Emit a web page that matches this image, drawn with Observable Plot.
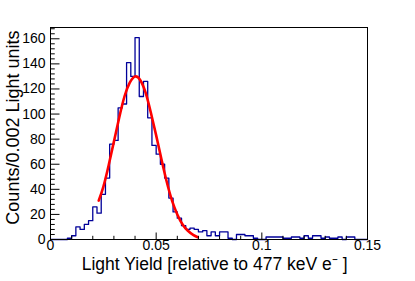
<!DOCTYPE html>
<html><head><meta charset="utf-8">
<script src="https://cdn.jsdelivr.net/npm/d3@7"></script>
<script src="https://cdn.jsdelivr.net/npm/@observablehq/plot@0.6"></script>
<style>
html,body{margin:0;padding:0;background:#fff;}
#chart svg{display:block;}
</style></head><body><div id="chart"></div>
<script>
const binWidth = 0.002;
const counts = [
  0, 0, 0, 0, 1, 3, 10, 8, 12, 15,
  26, 21, 36, 49, 76, 79, 105, 108, 141, 130,
  161, 114, 126, 97, 75, 68, 60, 49, 33, 22,
  17, 11, 8, 9, 8, 6, 7, 3, 6, 3,
  6, 6, 1, 0, 4, 4, 3, 3, 1, 0,
  0, 2, 2, 2, 2, 1, 1, 2, 2, 1,
  3, 1, 3, 3, 1, 2, 1, 1, 2, 0,
  2, 2, 0, 0, 0
];
const fitX = [0.0228, 0.025, 0.0275, 0.030, 0.0325, 0.035, 0.0375, 0.040, 0.0425, 0.045, 0.0475, 0.050, 0.0525, 0.055, 0.0575, 0.060, 0.0625, 0.065, 0.0675, 0.0697];
const fitY = [31, 42, 59, 78, 97, 114, 125, 130, 127, 117, 101, 83, 64, 46, 31, 20, 12, 7, 3.7, 1.8];
const xMajorTicks = [0, 0.05, 0.1, 0.15];
const xTickLabels = ["0", "0.05", "0.1", "0.15"];
const xMinorTicks = [0.01, 0.02, 0.03, 0.04, 0.06, 0.07, 0.08, 0.09, 0.11, 0.12, 0.13, 0.14];
const yMajorTicks = [0, 20, 40, 60, 80, 100, 120, 140, 160];
const yTickLabels = ["0", "20", "40", "60", "80", "100", "120", "140", "160"];
const yMinorTicks = [4, 8, 12, 16, 24, 28, 32, 36, 44, 48, 52, 56, 64, 68, 72, 76, 84, 88, 92, 96, 104, 108, 112, 116, 124, 128, 132, 136, 144, 148, 152, 156, 164, 168];
const xTitle = "Light Yield [relative to 477 keV e\u207B ]";
const yTitle = "Counts/0.002 Light units";
const yMax = 169;

const histPts = counts.map((c, i) => ({x: i * binWidth, y: c}));
histPts.push({x: counts.length * binWidth, y: counts[counts.length - 1]});
const fitPts = fitX.map((x, i) => ({x, y: fitY[i]}));

const W = 415, H = 281, mL = 50, mR = 48, mT = 27, mB = 42;
const fw = W - mL - mR, fh = H - mT - mB;

const chart = Plot.plot({
  width: W, height: H,
  marginLeft: mL, marginRight: mR, marginTop: mT, marginBottom: mB,
  x: {domain: [0, 0.15]},
  y: {domain: [0, yMax]},
  style: {fontFamily: "'Liberation Sans', Arial, Helvetica, sans-serif", fontSize: "14px", background: "white", color: "black"},
  marks: [
    Plot.line(histPts, {x: "x", y: "y", curve: "step-after", stroke: "#000099", strokeWidth: 1.3}),
    Plot.line(fitPts, {x: "x", y: "y", curve: "natural", stroke: "#ff0000", strokeWidth: 2.6}),
    Plot.tickX(xMajorTicks, {x: d => d, insetTop: fh - 6.5, stroke: "black"}),
    Plot.tickX(xMinorTicks, {x: d => d, insetTop: fh - 3.2, stroke: "black"}),
    Plot.tickY(yMajorTicks, {y: d => d, insetRight: fw - 9.5, stroke: "black"}),
    Plot.tickY(yMinorTicks, {y: d => d, insetRight: fw - 4.75, stroke: "black"}),
    Plot.axisX(xMajorTicks, {tickSize: 0, tickPadding: 1, tickFormat: d => xTickLabels[xMajorTicks.indexOf(d)], label: null, fontSize: 14}),
    Plot.axisY(yMajorTicks, {tickSize: 0, tickPadding: 5, tickFormat: d => yTickLabels[yMajorTicks.indexOf(d)], label: null, fontSize: 14}),
    Plot.frame({stroke: "black"}),
    Plot.text([xTitle], {frameAnchor: "bottom-right", dx: -20, dy: 30, textAnchor: "end", fontSize: 17.5}),
    Plot.text([yTitle], {frameAnchor: "top-left", rotate: -90, dx: -44, dy: 3, textAnchor: "end", fontSize: 18})
  ]
});
document.getElementById("chart").appendChild(chart);
</script>
</body></html>
